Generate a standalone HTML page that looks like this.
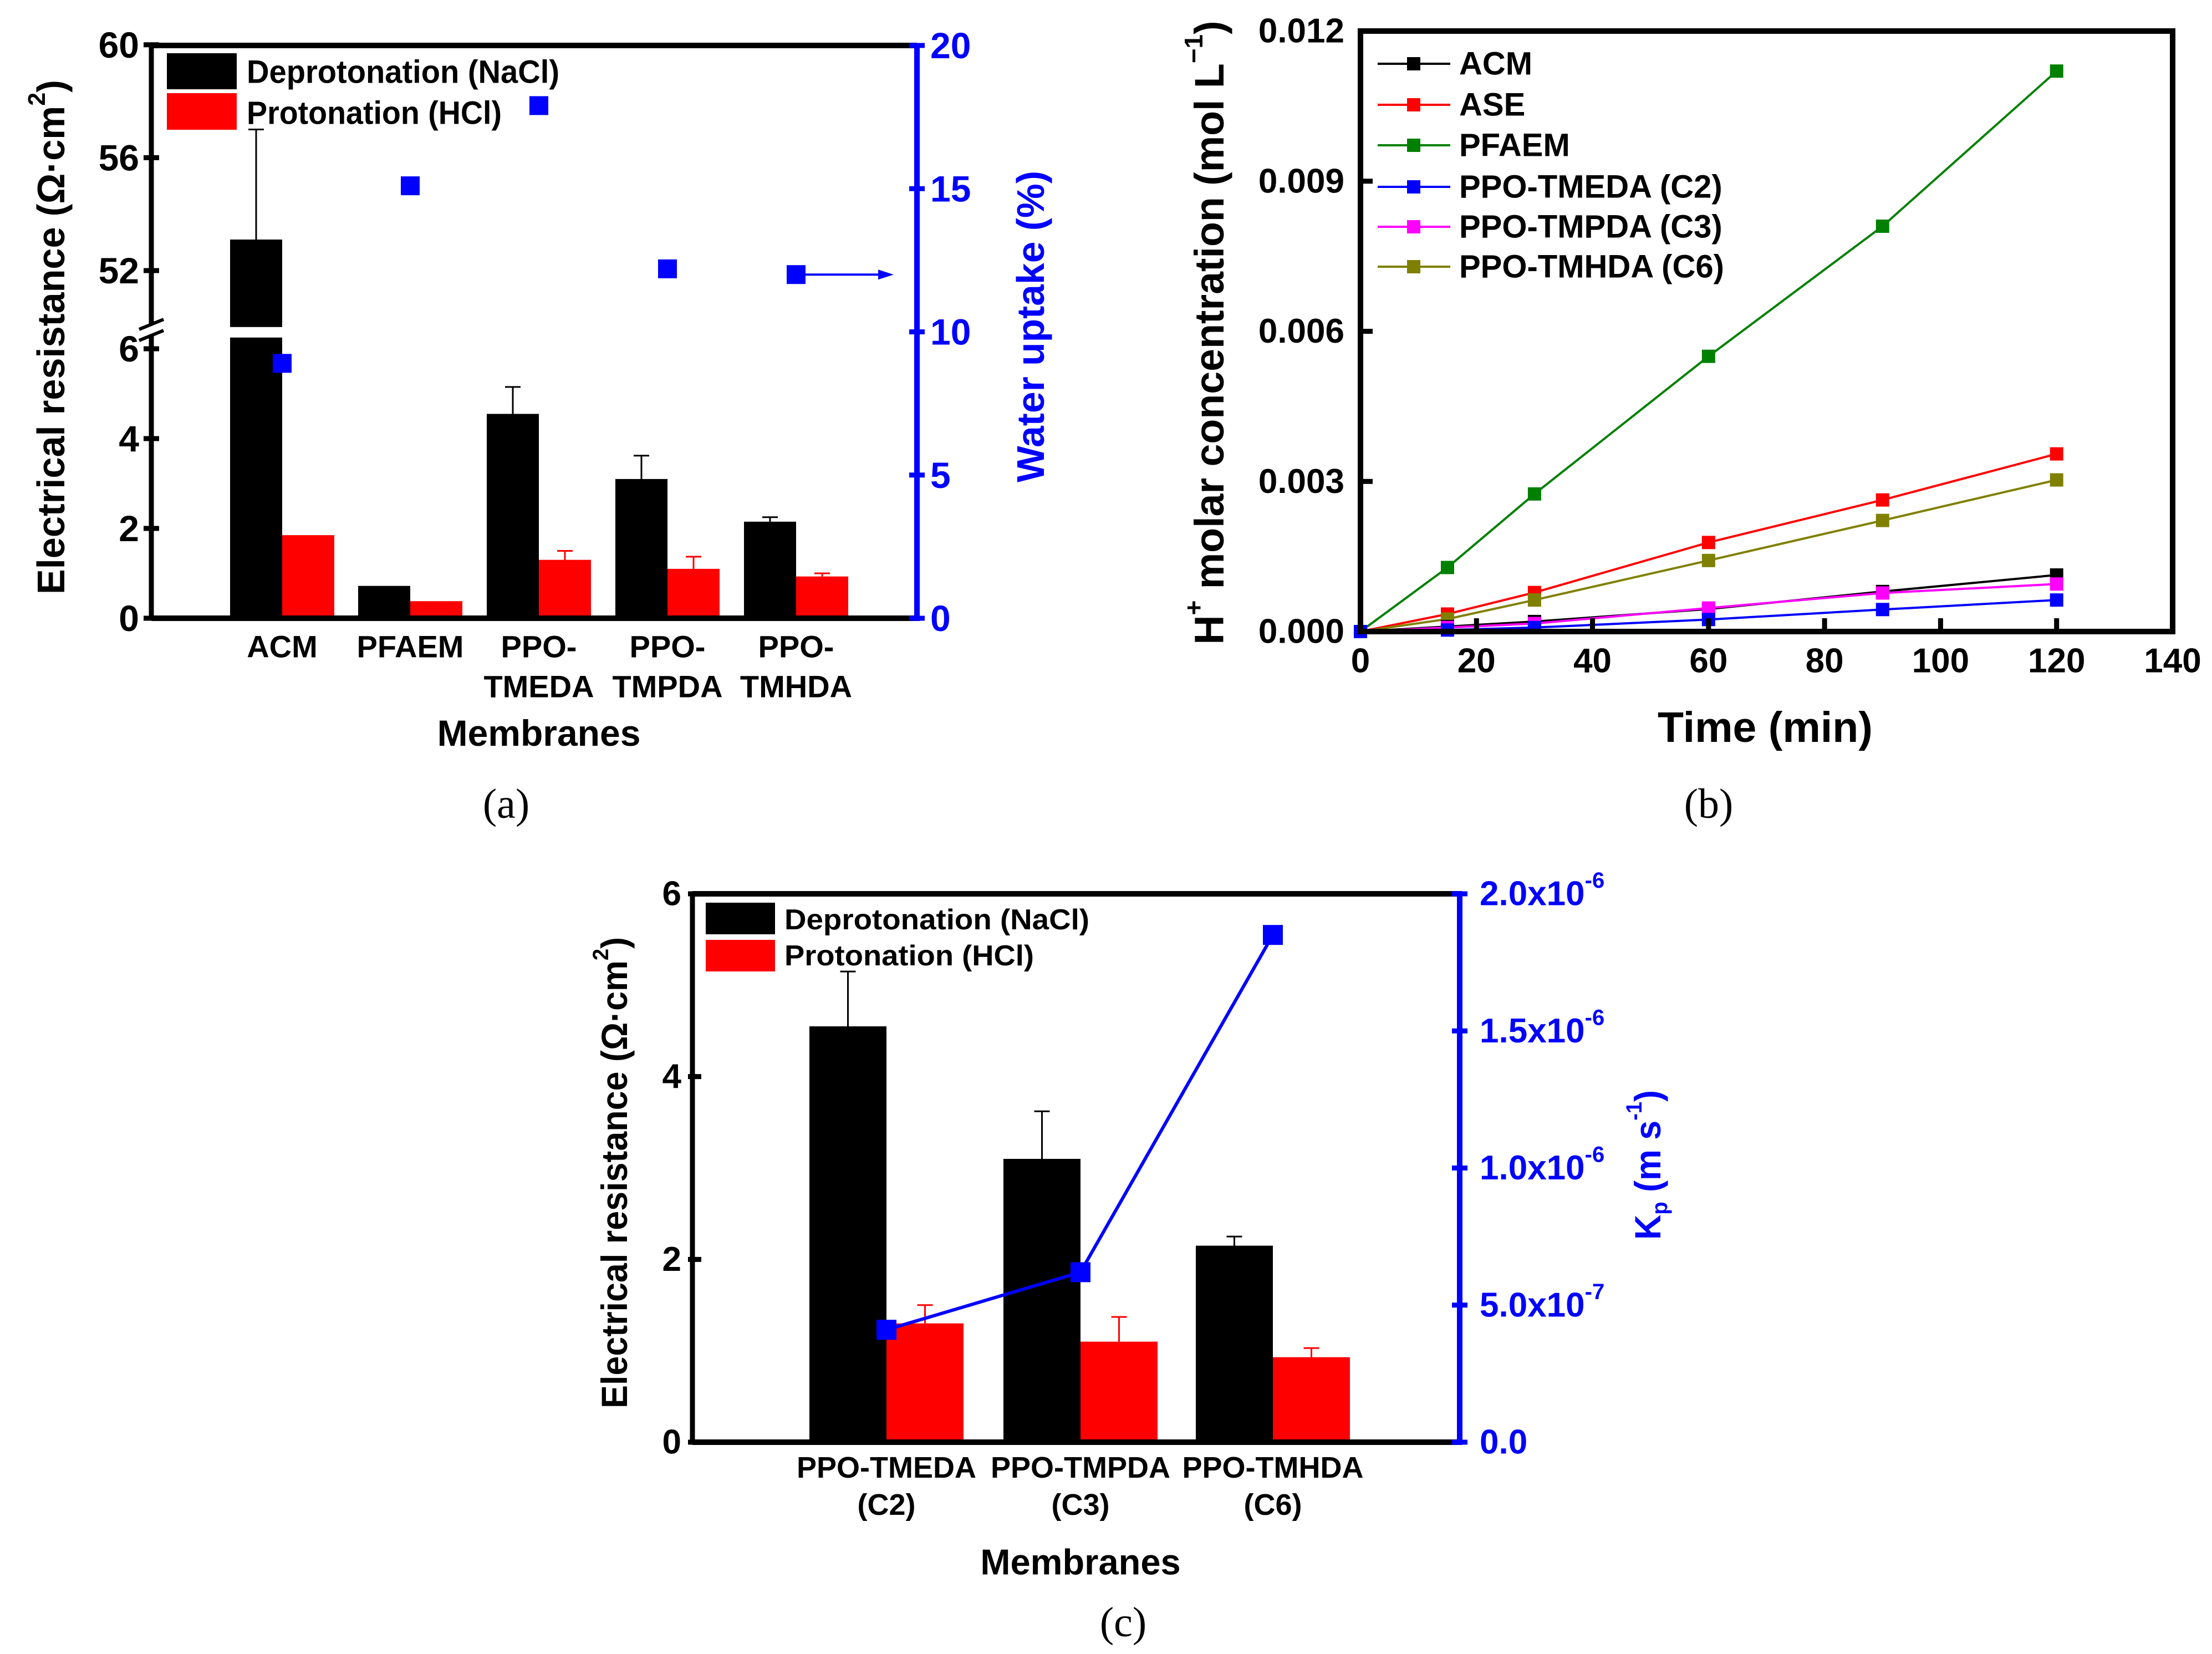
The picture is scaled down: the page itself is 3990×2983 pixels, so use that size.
<!DOCTYPE html>
<html><head><meta charset="utf-8"><style>
html,body{margin:0;padding:0;background:#fff}
svg{display:block}
text{font-family:"Liberation Sans",Arial,sans-serif;font-weight:bold}
.serif{font-family:"Liberation Serif",serif;font-weight:normal}
</style></head><body>
<svg id="fig" xmlns="http://www.w3.org/2000/svg" width="3990" height="2983" viewBox="0 0 3990 2983">
<rect width="3990" height="2983" fill="#fff"/>
</svg>
<script>
// ---------- Panel (a) data ----------
const aCategories = [["ACM"],["PFAEM"],["PPO-","TMEDA"],["PPO-","TMPDA"],["PPO-","TMHDA"]];
const aDeprot = [53.1, 0.72, 4.55, 3.1, 2.15];
const aDeprotErr = [57.0, 0.72, 5.15, 3.62, 2.25];
const aProt = [1.85, 0.38, 1.3, 1.1, 0.93];
const aProtErr = [1.85, 0.38, 1.5, 1.37, 1.0];
const aWater = [8.9, 15.1, 17.9, 12.2, 12.0];
const aLowTicks = [0, 2, 4, 6];
const aHighTicks = [52, 56, 60];
const aRightTicks = [0, 5, 10, 15, 20];
// ---------- Panel (b) data ----------
const bTime = [0, 15, 30, 60, 90, 120];
const bSeriesNames = ["ACM","ASE","PFAEM","PPO-TMEDA (C2)","PPO-TMPDA (C3)","PPO-TMHDA (C6)"];
const bACM = [0, 0.0001, 0.0002, 0.00045, 0.0008, 0.00113];
const bASE = [0, 0.00035, 0.00078, 0.00178, 0.00263, 0.00355];
const bPFAEM = [0, 0.00128, 0.00275, 0.0055, 0.0081, 0.0112];
const bC2 = [0, 0.00003, 0.00008, 0.00024, 0.00044, 0.00063];
const bC3 = [0, 0.00008, 0.00016, 0.00047, 0.00077, 0.00095];
const bC6 = [0, 0.00025, 0.00063, 0.00142, 0.00222, 0.00303];
const bXTicks = [0, 20, 40, 60, 80, 100, 120, 140];
const bYTicks = [0, 0.003, 0.006, 0.009, 0.012];
const bYTickLabels = ["0.000","0.003","0.006","0.009","0.012"];
// ---------- Panel (c) data ----------
const cCategories = [["PPO-TMEDA","(C2)"],["PPO-TMPDA","(C3)"],["PPO-TMHDA","(C6)"]];
const cDeprot = [4.55, 3.1, 2.15];
const cDeprotErr = [5.15, 3.62, 2.25];
const cProt = [1.3, 1.1, 0.93];
const cProtErr = [1.5, 1.37, 1.03];
const cKp = [4.1e-7, 6.2e-7, 1.85e-6];
const cLeftTicks = [0, 2, 4, 6];
const cRightTicks = [0, 5e-7, 1e-6, 1.5e-6, 2e-6];
const cRightMant = ["0.0","5.0x10","1.0x10","1.5x10","2.0x10"];
const cRightExp = ["","-7","-6","-6","-6"];

const NS = "http://www.w3.org/2000/svg";
const svg = document.getElementById("fig");
function el(tag, attrs, parent) {
  const e = document.createElementNS(NS, tag);
  for (const k in attrs) e.setAttribute(k, attrs[k]);
  (parent || svg).appendChild(e);
  return e;
}
function txt(str, x, y, size, fill, anchor, parent) {
  const t = el("text", {x: x, y: y, "font-size": size, fill: fill || "#000", "text-anchor": anchor || "start", "dominant-baseline": "central"}, parent);
  t.textContent = str;
  return t;
}
const BLUE = "#0000ff";

// ================= PANEL A =================
const gA = el("g", {});


const aL = 273, aR = 1654, aT = 82, aB = 1115;
const aCx = [509, 740, 972, 1204, 1436];
const aBW = 94;
function aYLow(v) { return aB - v * 81; }
function aYHigh(v) { return 488 - (v - 52) * 50.9; }
function aY(v) { return v <= 6.25 ? aYLow(v) : aYHigh(v); }
function aYR(v) { return aB - v / 20 * (aB - aT); }
function aBar(cx, v, color, name) {
  if (v <= 6.25) {
    const r = el("rect", {x: cx, y: aYLow(v), width: aBW, height: aB - aYLow(v), fill: color}, gA);
    
    
  } else {
    const r1 = el("rect", {x: cx, y: aYLow(6.25), width: aBW, height: aB - aYLow(6.25), fill: color}, gA);
    
    
    const r2 = el("rect", {x: cx, y: aYHigh(v), width: aBW, height: aYHigh(50) - aYHigh(v), fill: color}, gA);
    
    
  }
}
function errBar(g, x, y0, y1, color, cap) {
  el("line", {x1: x, y1: y0, x2: x, y2: y1, stroke: color, "stroke-width": 3}, g);
  el("line", {x1: x - cap, y1: y1, x2: x + cap, y2: y1, stroke: color, "stroke-width": 3}, g);
}
for (let i = 0; i < aCategories.length; i++) {
  const cx = aCx[i];
  aBar(cx - aBW, aDeprot[i], "#000", "bar-deprotonation-" + i);
  aBar(cx, aProt[i], "#ff0000", "bar-protonation-" + i);
  if (aDeprotErr[i] > aDeprot[i]) errBar(gA, cx - aBW / 2, aY(aDeprot[i]), aY(aDeprotErr[i]), "#000", 14);
  if (aProtErr[i] > aProt[i]) errBar(gA, cx + aBW / 2, aY(aProt[i]), aY(aProtErr[i]), "#ff0000", 14);
  const sq = el("rect", {x: cx - 17, y: aYR(aWater[i]) - 17, width: 34, height: 34, fill: BLUE}, gA);
  
  
  const lab = aCategories[i];
  for (let j = 0; j < lab.length; j++) txt(lab[j], cx, 1166 + j * 72, 56, "#000", "middle", gA);
}
// arrow
const arrY = aYR(aWater[4]);
el("line", {x1: aCx[4], y1: arrY, x2: 1590, y2: arrY, stroke: BLUE, "stroke-width": 4}, gA);
el("polygon", {points: `1612,${arrY} 1584,${arrY-9} 1584,${arrY+9}`, fill: BLUE}, gA);
// axes
el("line", {x1: aL, y1: aT, x2: aR, y2: aT, stroke: "#000", "stroke-width": 10}, gA);
el("line", {x1: aL, y1: aB, x2: aR, y2: aB, stroke: "#000", "stroke-width": 10}, gA);
el("line", {x1: aL, y1: aT, x2: aL, y2: 586, stroke: "#000", "stroke-width": 9}, gA);
el("line", {x1: aL, y1: 606, x2: aL, y2: aB, stroke: "#000", "stroke-width": 9}, gA);
el("line", {x1: aL - 22, y1: 594, x2: aL + 22, y2: 576, stroke: "#000", "stroke-width": 6}, gA);
el("line", {x1: aL - 22, y1: 614, x2: aL + 22, y2: 596, stroke: "#000", "stroke-width": 6}, gA);
const aRax = el("line", {x1: aR, y1: aT, x2: aR, y2: aB + 5, stroke: BLUE, "stroke-width": 10}, gA);


for (const v of aLowTicks) {
  el("line", {x1: aL - 14, y1: aYLow(v), x2: aL + 14, y2: aYLow(v), stroke: "#000", "stroke-width": 9}, gA);
  txt(String(v), aL - 22, aYLow(v), 66, "#000", "end", gA);
}
for (const v of aHighTicks) {
  el("line", {x1: aL - 14, y1: aYHigh(v), x2: aL + 14, y2: aYHigh(v), stroke: "#000", "stroke-width": 9}, gA);
  txt(String(v), aL - 22, aYHigh(v), 66, "#000", "end", gA);
}
for (const v of aRightTicks) {
  el("line", {x1: aR - 14, y1: aYR(v), x2: aR + 14, y2: aYR(v), stroke: BLUE, "stroke-width": 9}, gA);
  txt(String(v), aR + 24, aYR(v), 66, BLUE, "start", gA);
}
// legend
el("rect", {x: 301, y: 96, width: 126, height: 65, fill: "#000"}, gA);
el("rect", {x: 301, y: 168, width: 126, height: 66, fill: "#ff0000"}, gA);
let t = txt("Deprotonation (NaCl)", 445, 130, 58, "#000", "start", gA);
t.setAttribute("textLength", 564); t.setAttribute("lengthAdjust", "spacingAndGlyphs");
t = txt("Protonation (HCl)", 445, 204, 58, "#000", "start", gA);
t.setAttribute("textLength", 460); t.setAttribute("lengthAdjust", "spacingAndGlyphs");
// titles
t = el("text", {x: 0, y: 0, "font-size": 70, "text-anchor": "middle", "dominant-baseline": "central", transform: "translate(92,608) rotate(-90)", textLength: 928, lengthAdjust: "spacingAndGlyphs"}, gA);
t.innerHTML = 'Electrical resistance (Ω·cm<tspan dy="-26" font-size="44">2</tspan><tspan dy="26">)</tspan>';


t = el("text", {x: 0, y: 0, "font-size": 70, fill: BLUE, "text-anchor": "middle", "dominant-baseline": "central", transform: "translate(1859,589) rotate(-90)", textLength: 562, lengthAdjust: "spacingAndGlyphs"}, gA);
t.textContent = "Water uptake (%)";


t = txt("Membranes", 972, 1322, 66, "#000", "middle", gA);


t = txt("(a)", 913, 1450, 76, "#000", "middle", gA);
t.setAttribute("class", "serif");

// ================= PANEL B =================
const gB = el("g", {});


const bL = 2454, bR = 3919, bT = 56, bB = 1139;
function bX(v) { return bL + v / 140 * (bR - bL); }
function bY(v) { return bB - v / 0.012 * (bB - bT); }
const bSeries = [bACM, bASE, bPFAEM, bC2, bC3, bC6];
const bColors = ["#000000", "#ff0000", "#008000", "#0000ff", "#ff00ff", "#808000"];
const bOrder = [2, 1, 5, 0, 4, 3];
for (const s of bOrder) {
  const vals = bSeries[s];
  const pts = bTime.map((x, i) => bX(x) + "," + bY(vals[i])).join(" ");
  const pl = el("polyline", {points: pts, fill: "none", stroke: bColors[s], "stroke-width": 4}, gB);
  
  
  for (let i = 0; i < bTime.length; i++) {
    const m = el("rect", {x: bX(bTime[i]) - 12, y: bY(vals[i]) - 12, width: 24, height: 24, fill: bColors[s]}, gB);
    
    
  }
}
const bFrame = el("rect", {x: bL, y: bT, width: bR - bL, height: bB - bT, fill: "none", stroke: "#000", "stroke-width": 10}, gB);


for (const v of bXTicks) {
  el("line", {x1: bX(v), y1: bB, x2: bX(v), y2: bB - 24, stroke: "#000", "stroke-width": 9}, gB);
  txt(String(v), bX(v), 1192, 62, "#000", "middle", gB);
}
bYTicks.forEach((v, i) => {
  el("line", {x1: bL, y1: bY(v), x2: bL + 22, y2: bY(v), stroke: "#000", "stroke-width": 9}, gB);
  txt(bYTickLabels[i], 2425, bY(v), 62, "#000", "end", gB);
});
const bLegY = [115, 189, 262, 337, 409, 481];
for (let s = 0; s < 6; s++) {
  el("line", {x1: 2485, y1: bLegY[s], x2: 2616, y2: bLegY[s], stroke: bColors[s], "stroke-width": 4}, gB);
  el("rect", {x: 2538, y: bLegY[s] - 12, width: 24, height: 24, fill: bColors[s]}, gB);
  const lt = txt(bSeriesNames[s], 2632, bLegY[s], 58, "#000", "start", gB);
  
  
}
t = el("text", {x: 0, y: 0, "font-size": 74, "text-anchor": "middle", "dominant-baseline": "central", transform: "translate(2181,600) rotate(-90)", textLength: 1125, lengthAdjust: "spacingAndGlyphs"}, gB);
t.innerHTML = 'H<tspan dy="-28" font-size="46">+</tspan><tspan dy="28"> molar concentration (mol L</tspan><tspan dy="-28" font-size="46">−1</tspan><tspan dy="28">)</tspan>';


t = txt("Time (min)", 3184, 1312, 77, "#000", "middle", gB);


t = txt("(b)", 3082, 1450, 76, "#000", "middle", gB);
t.setAttribute("class", "serif");

// ================= PANEL C =================
const gC = el("g", {});


const cL = 1249, cR = 2633, cT = 1612, cB = 2601;
const cCx = [1599, 1949, 2296];
const cBW = 139;
function cY(v) { return cB - v / 6 * (cB - cT); }
function cYR(v) { return cB - v / 2e-6 * (cB - cT); }
for (let i = 0; i < cCategories.length; i++) {
  const cx = cCx[i];
  let r = el("rect", {x: cx - cBW, y: cY(cDeprot[i]), width: cBW, height: cB - cY(cDeprot[i]), fill: "#000"}, gC);
  
  
  r = el("rect", {x: cx, y: cY(cProt[i]), width: cBW, height: cB - cY(cProt[i]), fill: "#ff0000"}, gC);
  
  
  errBar(gC, cx - cBW / 2, cY(cDeprot[i]), cY(cDeprotErr[i]), "#000", 14);
  errBar(gC, cx + cBW / 2, cY(cProt[i]), cY(cProtErr[i]), "#ff0000", 14);
  txt(cCategories[i][0], cx, 2647, 54, "#000", "middle", gC);
  txt(cCategories[i][1], cx, 2714, 54, "#000", "middle", gC);
}
const kpPts = cCx.map((x, i) => x + "," + cYR(cKp[i])).join(" ");
const kpl = el("polyline", {points: kpPts, fill: "none", stroke: BLUE, "stroke-width": 6}, gC);


for (let i = 0; i < cKp.length; i++) {
  const sq = el("rect", {x: cCx[i] - 18, y: cYR(cKp[i]) - 18, width: 36, height: 36, fill: BLUE}, gC);
  
  
}
el("line", {x1: cL, y1: cT, x2: cR, y2: cT, stroke: "#000", "stroke-width": 10}, gC);
el("line", {x1: cL, y1: cB, x2: cR, y2: cB, stroke: "#000", "stroke-width": 10}, gC);
el("line", {x1: cL, y1: cT, x2: cL, y2: cB, stroke: "#000", "stroke-width": 9}, gC);
el("line", {x1: cR, y1: cT - 5, x2: cR, y2: cB + 5, stroke: BLUE, "stroke-width": 10}, gC);
for (const v of cLeftTicks) {
  el("line", {x1: cL - 8, y1: cY(v), x2: cL + 16, y2: cY(v), stroke: "#000", "stroke-width": 9}, gC);
  txt(String(v), 1229, cY(v), 62, "#000", "end", gC);
}
cRightTicks.forEach((v, i) => {
  el("line", {x1: cR - 14, y1: cYR(v), x2: cR + 14, y2: cYR(v), stroke: BLUE, "stroke-width": 9}, gC);
  const tt = txt("", 2669, cYR(v), 62, BLUE, "start", gC);
  tt.innerHTML = cRightMant[i] + (cRightExp[i] ? '<tspan dy="-24" font-size="40">' + cRightExp[i] + '</tspan>' : '');
});
el("rect", {x: 1273, y: 1628, width: 125, height: 57, fill: "#000"}, gC);
el("rect", {x: 1273, y: 1695, width: 125, height: 57, fill: "#ff0000"}, gC);
t = txt("Deprotonation (NaCl)", 1415, 1659, 52, "#000", "start", gC);
t.setAttribute("textLength", 550); t.setAttribute("lengthAdjust", "spacingAndGlyphs");
t = txt("Protonation (HCl)", 1415, 1724, 52, "#000", "start", gC);
t.setAttribute("textLength", 450); t.setAttribute("lengthAdjust", "spacingAndGlyphs");
t = el("text", {x: 0, y: 0, "font-size": 66, "text-anchor": "middle", "dominant-baseline": "central", transform: "translate(1108,2115) rotate(-90)", textLength: 850, lengthAdjust: "spacingAndGlyphs"}, gC);
t.innerHTML = 'Electrical resistance (Ω·cm<tspan dy="-24" font-size="40">2</tspan><tspan dy="24">)</tspan>';


t = el("text", {x: 0, y: 0, "font-size": 66, fill: BLUE, "text-anchor": "middle", "dominant-baseline": "central", transform: "translate(2972,2101) rotate(-90)", textLength: 270, lengthAdjust: "spacingAndGlyphs"}, gC);
t.innerHTML = 'K<tspan dy="22" font-size="40">p</tspan><tspan dy="-22"> (m s</tspan><tspan dy="-24" font-size="40">-1</tspan><tspan dy="24">)</tspan>';


t = txt("Membranes", 1949, 2817, 65, "#000", "middle", gC);


t = txt("(c)", 2026, 2926, 76, "#000", "middle", gC);
t.setAttribute("class", "serif");
</script>
</body></html>
